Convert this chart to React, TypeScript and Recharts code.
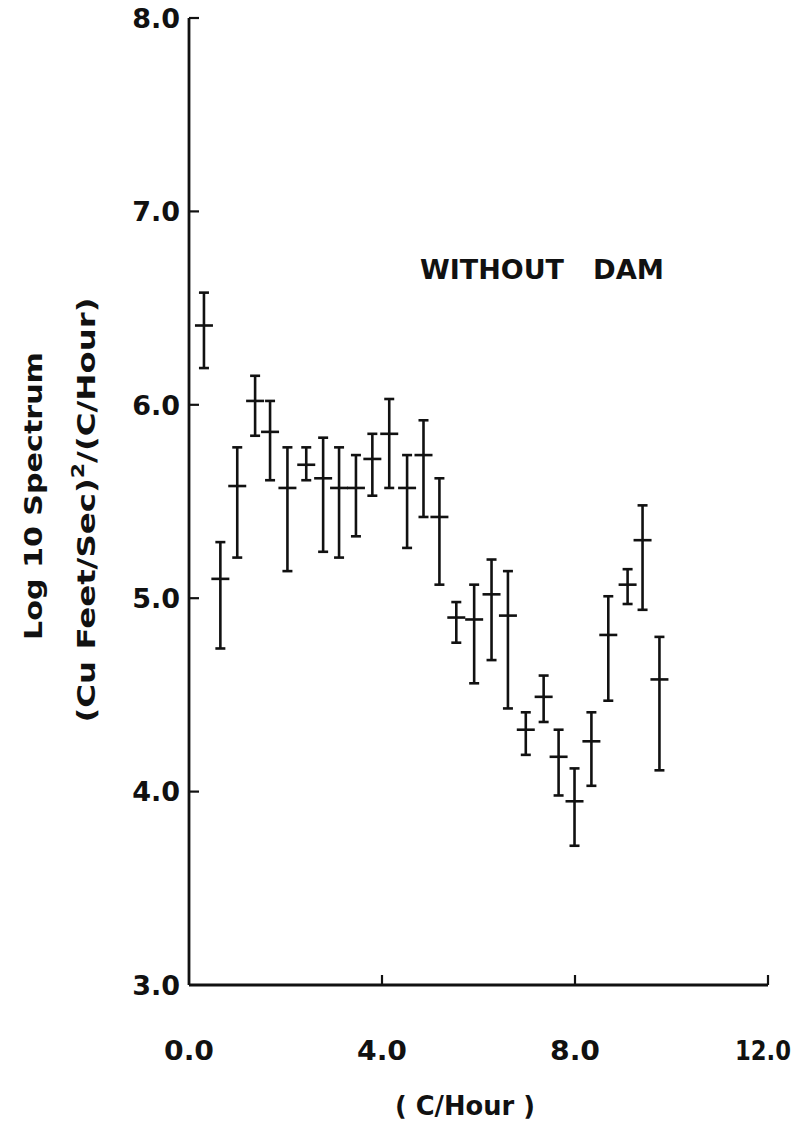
import { ScatterChart, Scatter, XAxis, YAxis, ErrorBar } from "recharts";

// frequency (C/Hour) and log10 spectrum, with the upper / lower ends of each bar
const freq = [0.31, 0.65, 1.0, 1.37, 1.68, 2.04, 2.43, 2.78, 3.11, 3.46, 3.8, 4.15, 4.52, 4.86, 5.19, 5.54, 5.91, 6.27, 6.61, 6.98, 7.35, 7.66, 7.99, 8.34, 8.69, 9.09, 9.4, 9.75];
const logSpec = [6.41, 5.1, 5.58, 6.02, 5.86, 5.57, 5.69, 5.62, 5.57, 5.57, 5.72, 5.85, 5.57, 5.74, 5.42, 4.9, 4.89, 5.02, 4.91, 4.32, 4.49, 4.18, 3.95, 4.26, 4.81, 5.07, 5.3, 4.58];
const upper = [6.58, 5.29, 5.78, 6.15, 6.02, 5.78, 5.78, 5.83, 5.78, 5.74, 5.85, 6.03, 5.74, 5.92, 5.62, 4.98, 5.07, 5.2, 5.14, 4.41, 4.6, 4.32, 4.12, 4.41, 5.01, 5.15, 5.48, 4.8];
const lower = [6.19, 4.74, 5.21, 5.84, 5.61, 5.14, 5.61, 5.24, 5.21, 5.32, 5.53, 5.57, 5.26, 5.42, 5.07, 4.77, 4.56, 4.68, 4.43, 4.19, 4.36, 3.98, 3.72, 4.03, 4.47, 4.97, 4.94, 4.11];
const xTicks = [0, 4, 8, 12];
const yTicks = [3, 4, 5, 6, 7, 8];

const data = freq.map((f, i) => ({
  f,
  s: logSpec[i],
  err: [logSpec[i] - lower[i], upper[i] - logSpec[i]],
}));

const INK = "#111";
const FONT = "'DejaVu Sans', Verdana, sans-serif";

// short horizontal dash at each estimate
const Dash = (props: any) => {
  const { cx, cy } = props;
  return <line x1={cx - 9} x2={cx + 9} y1={cy} y2={cy} stroke={INK} strokeWidth={2.6} />;
};

const XTick = ({ x, y, payload }: any) => {
  const v = payload.value as number;
  return (
    <g>
      {v !== 0 && <line x1={x} x2={x} y1={y} y2={y - 10} stroke={INK} strokeWidth={2.2} />}
      <text
        x={v === 12 ? x - 5 : x}
        y={y + 66}
        dy="0.36em"
        textAnchor="middle"
        fontFamily={FONT}
        fontWeight="bold"
        fontSize={26}
        fill={INK}
        textLength={v === 12 ? 56 : 50}
        lengthAdjust="spacingAndGlyphs"
      >
        {v.toFixed(1)}
      </text>
    </g>
  );
};

const YTick = ({ x, y, payload }: any) => (
  <g>
    {payload.value !== 3 && <line x1={x} x2={x + 10} y1={y} y2={y} stroke={INK} strokeWidth={2.2} />}
    <text x={x - 9} y={y} dy="0.36em" textAnchor="end" fontFamily={FONT} fontWeight="bold" fontSize={27} fill={INK}>
      {payload.value.toFixed(1)}
    </text>
  </g>
);

const YTitle = () => (
  <g fontFamily={FONT} fontWeight="bold" fill={INK}>
    <text transform="translate(42,496) rotate(-90)" textAnchor="middle" fontSize={24} textLength={288} lengthAdjust="spacingAndGlyphs">
      Log 10 Spectrum
    </text>
    <text transform="translate(95,510) rotate(-90)" textAnchor="middle" fontSize={25} textLength={425} lengthAdjust="spacingAndGlyphs">
      (Cu Feet/Sec)<tspan dy={-11} fontSize={17}>2</tspan><tspan dy={11}>/(C/Hour)</tspan>
    </text>
  </g>
);

const XTitle = () => (
  <g fontFamily={FONT} fontWeight="bold" fill={INK}>
    <text x={465} y={1115} textAnchor="middle" fontSize={27} textLength={140} lengthAdjust="spacingAndGlyphs">
      ( C/Hour )
    </text>
    <text x={420} y={279} fontSize={27} textLength={144} lengthAdjust="spacingAndGlyphs">WITHOUT</text>
    <text x={593} y={279} fontSize={27} textLength={71} lengthAdjust="spacingAndGlyphs">DAM</text>
  </g>
);

export default function App() {
  return (
    <div style={{ position: "absolute", left: 0, top: 0, width: 798, height: 1125, background: "#fff" }}>
      <ScatterChart width={798} height={1125} margin={{ top: 18, right: 30, bottom: 40, left: 0 }}>
        <XAxis
          type="number"
          dataKey="f"
          domain={[0, 12]}
          ticks={xTicks}
          height={100}
          tickSize={0}
          tickMargin={0}
          tickLine={false}
          tick={<XTick />}
          axisLine={{ stroke: INK, strokeWidth: 2.8 }}
          allowDataOverflow
          label={{ content: <XTitle /> }}
        />
        <YAxis
          type="number"
          dataKey="s"
          domain={[3, 8]}
          ticks={yTicks}
          width={189}
          tickSize={0}
          tickMargin={0}
          tickLine={false}
          tick={<YTick />}
          axisLine={{ stroke: INK, strokeWidth: 2.8 }}
          allowDataOverflow
          label={{ content: <YTitle /> }}
        />
        <Scatter data={data} shape={<Dash />} isAnimationActive={false}>
          <ErrorBar dataKey="err" direction="y" width={5} stroke={INK} strokeWidth={2.6} isAnimationActive={false} />
        </Scatter>
      </ScatterChart>
    </div>
  );
}
